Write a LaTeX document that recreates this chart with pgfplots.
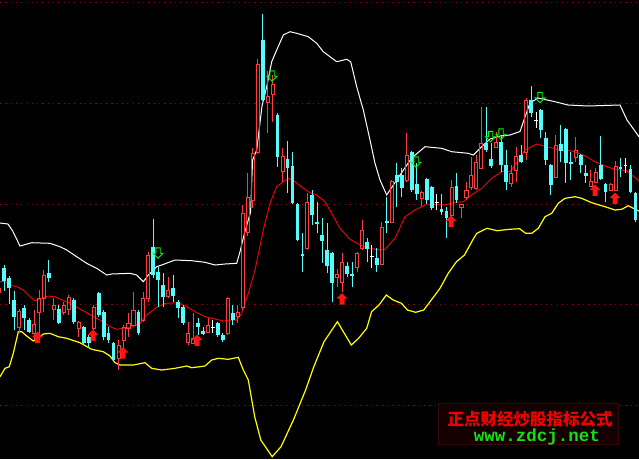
\documentclass[border=0pt]{standalone}
\usepackage{pgfplots}
\usepackage{pgfplotstable}
\pgfplotsset{compat=1.18}
\usepackage{fontspec}
\newfontfamily\cjk{Noto Sans CJK SC}
\newfontfamily\monof{Liberation Mono}
\definecolor{upc}{RGB}{255,60,60}
\definecolor{dnc}{RGB}{84,252,252}
\definecolor{midc}{RGB}{235,0,0}
\definecolor{lowc}{RGB}{255,255,0}
\definecolor{gridc}{RGB}{150,0,0}
\definecolor{arrowred}{RGB}{255,20,20}
\definecolor{arrowgreen}{RGB}{0,255,0}
\definecolor{boxfill}{RGB}{20,0,0}
\definecolor{boxline}{RGB}{55,8,8}
\definecolor{wmred}{RGB}{240,0,0}
\definecolor{wmgreen}{RGB}{20,225,20}

\pgfdeclareplotmark{uparrow}{%
  \pgfpathmoveto{\pgfqpoint{0pt}{5.8pt}}%
  \pgfpathlineto{\pgfqpoint{5.4pt}{0.4pt}}%
  \pgfpathlineto{\pgfqpoint{2.5pt}{0.4pt}}%
  \pgfpathlineto{\pgfqpoint{2.5pt}{-5.6pt}}%
  \pgfpathlineto{\pgfqpoint{-2.5pt}{-5.6pt}}%
  \pgfpathlineto{\pgfqpoint{-2.5pt}{0.4pt}}%
  \pgfpathlineto{\pgfqpoint{-5.4pt}{0.4pt}}%
  \pgfpathclose\pgfusepathqfill}
\pgfdeclareplotmark{downarrow}{%
  \pgfpathmoveto{\pgfqpoint{0pt}{-5.2pt}}%
  \pgfpathlineto{\pgfqpoint{5pt}{-0.2pt}}%
  \pgfpathlineto{\pgfqpoint{2.2pt}{-0.2pt}}%
  \pgfpathlineto{\pgfqpoint{2.2pt}{5.2pt}}%
  \pgfpathlineto{\pgfqpoint{-2.2pt}{5.2pt}}%
  \pgfpathlineto{\pgfqpoint{-2.2pt}{-0.2pt}}%
  \pgfpathlineto{\pgfqpoint{-5pt}{-0.2pt}}%
  \pgfpathclose\pgfusepathqstroke}

% candles: x, open, high, low, close (screen units, y grows downward)
\pgfplotstableread{
x o h l c
-0.8 292 286 294 288
4.2 268 265 291 281
9.1 278 276 304 288
14.1 300 291 330 317
19.1 327 309 333 311
24.1 308 305 330 318
29.0 320 318 333 332
34.0 333 310 340 324
39.0 312 290 340 298
43.9 298 270 312 275
48.9 273 260 282 278
53.9 309 298 320 305
58.8 309 305 324 323
63.8 312 302 315 305
68.8 309 295 315 297
73.8 300 298 324 322
78.7 328 321 337 322
83.7 327 326 345 343
88.7 337 335 348 343
93.6 328 305 330 307
98.6 293 292 317 315
103.6 312 310 340 337
108.5 333 327 343 340
113.5 343 342 361 360
118.5 358 340 370 345
123.5 340 325 348 327
128.4 328 313 337 323
133.4 325 292 326 310
138.4 312 310 335 333
143.3 320 292 322 298
148.3 298 252 302 255
153.3 247 219 278 275
158.3 272 267 307 280
163.2 285 273 307 297
168.2 296 277 298 290
173.2 288 275 302 296
178.1 302 300 318 308
183.1 307 305 325 323
188.1 342 322 345 333
193.0 343 313 344 338
198.0 323 318 335 327
203.0 331 327 335 334
208.0 332 318 333 325
212.9 327 320 333 327
217.9 323 322 337 335
222.9 335 333 342 340
227.8 333 297 335 298
232.8 313 305 325 320
237.8 316 305 323 312
242.7 307 205 310 213
247.7 232 173 236 197
252.7 200 148 208 153
257.6 152 59 154 64
262.6 40 14 101 100
267.6 102 71 133 96
272.5 94 75 122 84
277.5 115 113 167 157
282.5 171 148 182 156
287.5 159 141 193 168
292.4 166 152 204 203
297.4 204 203 241 240
302.4 254 233 272 256
307.3 248 193 250 202
312.3 195 190 225 215
317.3 222 202 233 224
322.2 235 218 263 241
327.2 250 223 273 266
332.2 253 252 302 283
337.2 277 269 287 274
342.1 282 253 292 262
347.1 266 262 277 274
352.1 274 262 287 276
357.0 267 252 272 253
362.0 248 220 250 230
367.0 242 238 262 249
371.9 256 245 268 256
376.9 258 248 272 265
381.9 264 222 265 227
386.9 221 197 233 223
391.8 222 180 223 181
396.8 175 163 207 182
401.8 175 168 197 188
406.7 180 133 182 155
411.7 152 151 192 190
416.7 184 163 200 194
421.6 198 191 207 192
426.6 179 178 204 200
431.6 187 186 210 208
436.6 202 194 210 202
441.5 209 194 215 212
446.5 211 207 238 218
451.5 215 180 217 187
456.4 186 173 203 200
461.4 207 204 218 204
466.4 197 182 200 190
471.3 187 157 190 175
476.3 188 155 190 162
481.3 168 107 169 143
486.3 143 107 152 150
491.2 159 143 168 166
496.2 147 132 148 142
501.2 142 135 172 165
506.1 165 150 190 182
511.1 183 165 187 173
516.1 170 147 182 156
521.0 155 145 163 162
526.0 152 98 160 100
531.0 100 86 117 113
536.0 120 112 128 120
540.9 110 109 138 130
545.9 138 132 165 160
550.9 165 164 195 185
555.8 177 135 178 145
560.8 144 125 162 151
565.8 129 128 183 163
570.7 162 152 180 164
575.7 157 137 162 150
580.7 155 154 173 165
585.7 173 165 183 176
590.6 186 170 187 181
595.6 182 168 183 172
600.6 165 136 180 179
605.5 184 183 202 192
610.5 190 183 191 184
615.5 190 161 191 166
620.4 167 158 177 169
625.4 165 158 173 165
630.4 169 165 193 192
635.4 193 192 222 220
}\candles

\begin{document}
\begin{tikzpicture}
\begin{axis}[
  width=639pt, height=459pt, scale only axis,
  xmin=0, xmax=639, ymin=0, ymax=459, y dir=reverse,
  axis background/.style={fill=black},
  axis line style={draw=none},
  xtick=\empty, ytick=\empty,
  clip=true,
]
% dotted grid
\addplot[gridc, line width=1pt, dash pattern=on 1.2pt off 4.1pt] coordinates {(0,2.5) (639,2.5)};
\addplot[gridc, line width=1pt, dash pattern=on 1.2pt off 4.1pt] coordinates {(0,103.3) (639,103.3)};
\addplot[gridc, line width=1pt, dash pattern=on 1.2pt off 4.1pt] coordinates {(0,204) (639,204)};
\addplot[gridc, line width=1pt, dash pattern=on 1.2pt off 4.1pt] coordinates {(0,304.6) (639,304.6)};
\addplot[gridc, line width=1pt, dash pattern=on 1.2pt off 4.1pt] coordinates {(0,405.6) (639,405.6)};

% upper band
\addplot[white, line width=1pt] coordinates {
(0,223)(8,224)(12.7,231)(20,246)(31.7,242.7)(50,243.3)(60,246.7)(66.7,250)(76.7,256.7)(86.7,263.3)(96.7,268.3)(106.7,275)(111.7,274)(130,273.3)(136.7,275)(143.3,281.7)(148.3,275)(156.7,266.7)(161.7,265)(175,260)(191.7,260.7)(205,262.3)(215,265)(225,264)(236.7,263.3)(240,251.7)(244.5,233)(250.6,212)(252.6,160)(256.7,150)(262,106)(266.7,86.7)(271.7,61.7)(276.7,50)(283.3,35)(290,31.7)(296.7,33.3)(308.3,36.7)(316.7,43.3)(323.3,51.7)(336.7,61.7)(346.7,59.3)(350.7,61.7)(356.7,86.7)(363.3,110)(370,140)(375,163.3)(380,180)(386.7,195)(400,175)(411.7,158)(425,146.7)(441.7,148.3)(451.7,151.7)(468.3,153.3)(473.3,155)(481.7,146.7)(490,139)(500,136)(510,135)(520,131.5)(525,117)(530,103)(538,98)(555,101.7)(568,105)(588,106)(620,105)(627,120)(639,136.7)};
% middle band
\addplot[midc, line width=1pt] coordinates {
(0,281.7)(5,281.7)(10,285)(16.7,286.7)(23.3,290)(30,296.7)(35,300.7)(41.7,298.3)(48.3,296)(55,296.7)(61.7,300)(70,303.3)(76.7,307.3)(85,311.7)(93.3,316.7)(100,320)(110,326.7)(116.7,329.3)(123.3,328.3)(131.7,326.7)(140,323.3)(145,316.7)(155,308.3)(165,303.3)(178.3,302.7)(186.7,306.7)(195,311.7)(205,316.7)(215,319)(223.3,321)(231.7,320)(236.7,320)(241.7,313.3)(248.3,293.3)(255,270)(263.3,230)(270,203.3)(276.7,186.7)(283.3,181.7)(288.3,178.3)(295,181.7)(303.3,188.3)(310,192.7)(316.7,195)(325,201.7)(331.7,213.3)(340,228.3)(350,239.3)(360,245)(370,248.3)(380,250)(385,249.3)(395,238.3)(405,216.7)(415,210)(425,205)(436.7,204.3)(445,205)(453.3,202.7)(463.3,201.7)(471.7,195)(481.7,188.3)(491.7,178.3)(501.7,171.7)(510,171.7)(515,165)(525,150)(536.7,144)(546.7,146.7)(560,150)(571.7,151)(583.3,155)(595,161.7)(605,166)(615,169.3)(626.7,170.7)(639,181)};
% lower band
\addplot[lowc, line width=1.2pt] coordinates {
(0,376.7)(5,368.3)(9.3,366.7)(13.3,353.3)(18.3,331.7)(21.7,331.7)(26.7,336)(33.3,341)(38.3,338.3)(43.3,334)(50,333.3)(58.3,336.7)(66.7,338.3)(80,342.7)(91.7,349.3)(103.3,351.7)(110,356)(115,362.7)(120,365)(133.3,365)(138.3,364)(145,362.7)(151.7,368.3)(161.7,370)(175,368.3)(186.7,366)(191.7,367.7)(205,366)(211.7,360)(218.3,358.3)(228.3,359.3)(238.3,357.3)(243.3,370)(248.3,380)(254.7,416.7)(260.8,440)(272.2,456.7)(281,446.7)(293.4,420)(305.6,390)(313.8,366.7)(324,341.7)(337.4,321.7)(344.3,333.3)(351.3,345)(358.6,338.3)(366.7,328.3)(371.6,311.7)(379,305)(386.3,295)(393.2,300)(401.4,303.3)(407.5,310)(415.6,312.3)(423.8,310)(430,301.7)(440,288.3)(448.2,273.3)(456.4,261.7)(464.5,255)(472.7,240)(476.8,233.3)(487,228.3)(497.2,230.7)(509.4,229.3)(519.6,228.7)(525.7,233.3)(531.7,233.3)(538.3,228.3)(545,216.7)(551.7,213.3)(558.3,203.3)(565,198.3)(575,196.7)(581.7,198.3)(591.7,202.7)(605,206.7)(615,210)(621.7,209.3)(628.3,205.7)(633.3,208.3)(639,211)};

% candlesticks from the table
\pgfplotstablegetrowsof{\candles}
\pgfmathtruncatemacro{\nrows}{\pgfplotsretval-1}
\pgfplotsforeachungrouped \r in {0,...,\nrows}{%
  \pgfplotstablegetelem{\r}{x}\of\candles\let\cx\pgfplotsretval
  \pgfplotstablegetelem{\r}{o}\of\candles\let\co\pgfplotsretval
  \pgfplotstablegetelem{\r}{h}\of\candles\let\ch\pgfplotsretval
  \pgfplotstablegetelem{\r}{l}\of\candles\let\cl\pgfplotsretval
  \pgfplotstablegetelem{\r}{c}\of\candles\let\cc\pgfplotsretval
  \pgfmathsetmacro\xl{\cx-1.55}\pgfmathsetmacro\xr{\cx+1.55}%
  \pgfmathsetmacro\xL{\cx-1.9}\pgfmathsetmacro\xR{\cx+1.9}%
  \ifdim\co pt>\cc pt
    \edef\tmp{\noexpand\draw[upc,line width=0.9pt] (axis cs:\cx,\ch)--(axis cs:\cx,\cc) (axis cs:\cx,\co)--(axis cs:\cx,\cl);
      \noexpand\draw[upc,line width=0.9pt] (axis cs:\xl,\co) rectangle (axis cs:\xr,\cc);}%
  \else\ifdim\co pt<\cc pt
    \edef\tmp{\noexpand\draw[dnc,line width=0.9pt] (axis cs:\cx,\ch)--(axis cs:\cx,\cl);
      \noexpand\fill[dnc] (axis cs:\xL,\co) rectangle (axis cs:\xR,\cc);}%
  \else
    \edef\tmp{\noexpand\draw[white,line width=0.9pt] (axis cs:\cx,\ch)--(axis cs:\cx,\cl);
      \noexpand\draw[white,line width=0.9pt] (axis cs:\xL,\co)--(axis cs:\xR,\co);}%
  \fi\fi
  \tmp
}

% signals
\addplot[only marks, mark=uparrow, color=arrowred] coordinates {
(37.5,337.5)(93,335.5)(123,353)(197,340.5)(342,299)(451,221.5)(595,190.5)(615,198.5)};
\addplot[only marks, mark=downarrow, color=arrowgreen, mark options={line width=0.9pt}] coordinates {
(158,253)(272,76)(416,162)(490.5,136.5)(501,134)(540,97.5)};

% watermark
\filldraw[fill=boxfill, draw=boxline, line width=1pt] (axis cs:438,403) rectangle (axis cs:618,444);
\node[text=wmred, inner sep=0pt, anchor=base, font=\cjk\bfseries\fontsize{16.5}{16.5}\selectfont] at (axis cs:530,425.5) {正点财经炒股指标公式};
\node[text=wmgreen, inner sep=0pt, anchor=base, font=\monof\bfseries\fontsize{17.5}{17.5}\selectfont] at (axis cs:537,441.5) {www.zdcj.net};
\end{axis}
\end{tikzpicture}
\end{document}
